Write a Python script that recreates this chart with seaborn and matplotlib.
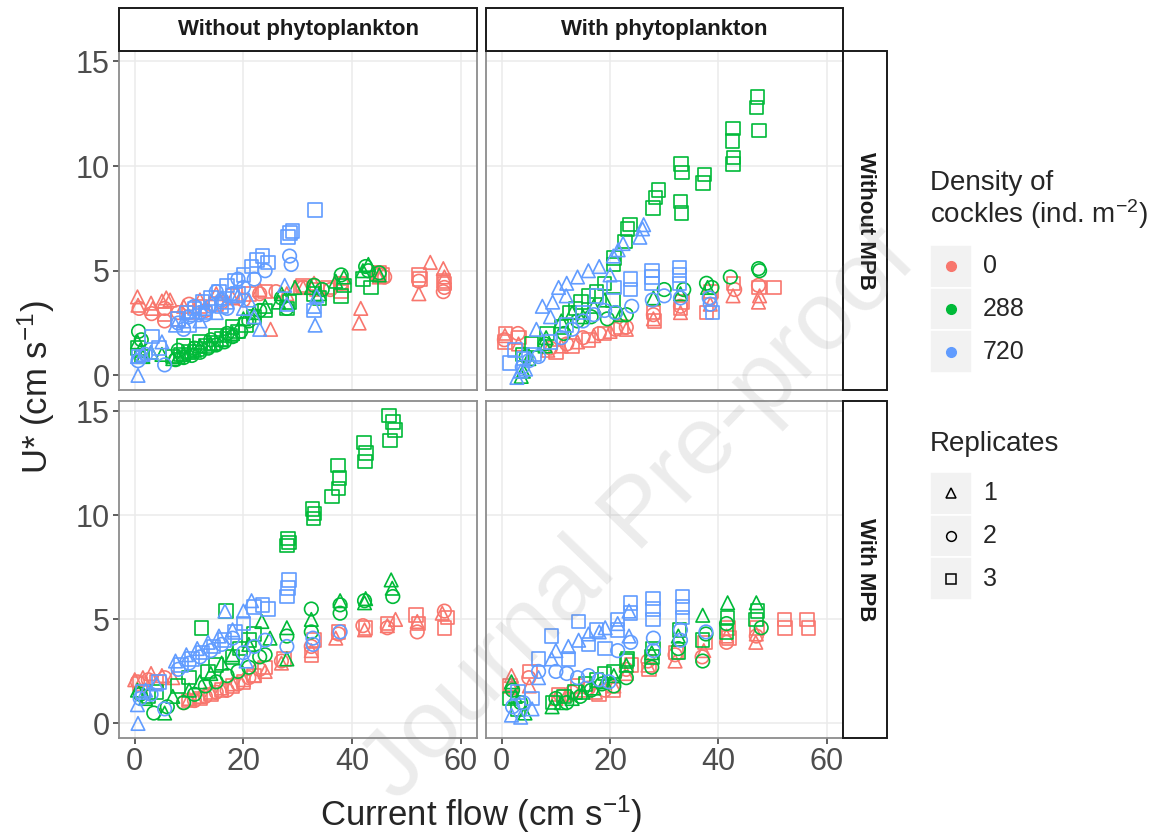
import pandas as pd
import matplotlib
matplotlib.use("Agg")
import matplotlib.pyplot as plt
import seaborn as sns
from matplotlib.patches import Rectangle
from matplotlib.lines import Line2D

# (current flow, U*) pairs, per panel / density / replicate
# panel "tl": without phytoplankton, without MPB
tl_d0_r1 = [(0.5, 3.75), (0.6, 3.35), (3.0, 3.45), (3.3, 3.2), (5.0, 3.55), (5.8, 3.7), (6.5, 3.6), (9, 3.3),
            (12, 3.6), (15, 3.9), (18, 3.7), (23, 4.1), (25, 2.2), (28, 3.9), (31, 4.2), (33, 4.4), (41.3, 2.5),
            (41.6, 3.2), (44.5, 4.9), (45, 4.7), (52.3, 3.9), (54.4, 5.4), (56.8, 5.1), (57, 4.7)]
tl_d0_r2 = [(0.8, 3.2), (3.1, 2.95), (5.5, 2.6), (5.5, 3.2), (8, 3.0), (10, 3.4), (13, 3.1), (16, 3.5), (20, 3.6),
            (23, 3.9), (26, 4.0), (31, 4.2), (33, 4.3), (36, 4.1), (38, 4.4), (45, 4.8), (46, 4.7), (52.3, 4.5),
            (56.8, 4.0), (57, 4.2)]
tl_d0_r3 = [(5.5, 2.9), (8, 2.7), (10, 3.0), (12, 3.3), (15, 3.4), (18, 3.8), (21, 3.9), (24, 4.0), (30.5, 4.2),
            (31, 4.3), (33.5, 4.1), (35.6, 4.2), (38, 4.4), (38, 4.0), (45, 4.9), (45.5, 4.8), (52.3, 4.8),
            (52.5, 4.6), (56.8, 4.5), (57, 4.4)]
tl_d288_r1 = [(0.5, 1.6), (1.0, 1.2), (1.5, 0.9), (3, 1.1), (5, 1.0), (7, 0.8), (8, 0.9), (9, 1.0), (10, 1.1),
              (11, 1.2), (12, 1.4), (14, 1.5), (16, 1.7), (18, 2.0), (20, 2.7), (22, 3.0), (24, 3.3), (26.5, 3.5),
              (27, 3.9), (29.5, 4.2), (32.5, 4.2), (34, 3.9), (37, 4.5), (38.5, 4.7), (42, 5.0), (43, 5.3), (45, 4.8)]
tl_d288_r2 = [(0.7, 2.1), (1.2, 1.7), (7.5, 0.75), (9, 0.85), (10.5, 0.95), (12, 1.1), (13.5, 1.3), (15, 1.45),
              (16.5, 1.6), (18, 1.85), (19.5, 2.1), (21, 2.6), (23, 3.1), (27, 3.7), (28, 3.2), (33, 4.3),
              (34.5, 4.1), (38, 4.8), (42.5, 5.2), (43, 5.0), (45, 4.9), (8, 1.2), (11, 1.3), (14, 1.7), (17, 2.0)]
tl_d288_r3 = [(0.6, 1.3), (1.3, 0.9), (7, 0.9), (8.5, 1.0), (10, 1.15), (11.5, 1.25), (13, 1.4), (14.5, 1.55),
              (16, 1.75), (17.5, 1.9), (19, 2.1), (20.5, 2.4), (22, 2.8), (24, 3.1), (28, 3.2), (28.5, 3.5),
              (33, 3.9), (34, 3.7), (38, 3.8), (38.5, 4.3), (42, 4.6), (43.5, 4.2), (9, 1.4), (12, 1.6), (15, 1.9),
              (18, 2.3)]
tl_d720_r1 = [(0.6, 0.0), (0.5, 0.9), (1.5, 1.0), (3, 1.1), (5, 1.6), (7.5, 2.4), (9, 2.6), (11, 2.9), (13, 3.2),
              (15, 3.0), (17, 3.5), (19, 3.8), (21, 3.6), (23, 2.2), (27.6, 4.3), (28, 3.4), (33.2, 2.4), (33, 3.3),
              (33.5, 3.8), (12, 2.6), (16, 3.7), (20, 3.2), (22, 2.8)]
tl_d720_r2 = [(0.6, 0.7), (2, 1.0), (5.5, 0.5), (8, 2.5), (10, 2.8), (12, 3.0), (14, 3.3), (16, 3.6), (18, 3.9),
              (20, 4.2), (22, 4.6), (24, 5.0), (28.5, 5.7), (28.8, 5.3), (9, 2.2), (11, 3.3), (13, 2.9), (15, 4.0),
              (17, 3.2), (19, 4.6)]
tl_d720_r3 = [(0.7, 0.9), (3.2, 1.85), (4.5, 1.3), (8, 2.7), (9.5, 3.0), (11, 3.2), (12.5, 3.5), (14, 3.7),
              (15.5, 4.0), (17, 4.3), (18.5, 4.5), (20, 4.8), (21.5, 5.2), (22.5, 5.5), (23.5, 5.7), (24.5, 5.4),
              (28.2, 6.6), (28.6, 6.8), (29, 6.9), (33.2, 7.9), (33, 3.1), (10, 2.4), (13, 3.0), (16, 3.3), (19, 3.9)]

# panel "tr": with phytoplankton, without MPB
tr_d0_r1 = [(0.6, 1.9), (3.1, 1.5), (8.5, 1.2), (11, 1.4), (14, 1.6), (17, 1.9), (20, 2.1), (23, 2.2), (28, 2.7),
            (33, 3.0), (38.5, 3.4), (42.7, 3.8), (47.4, 3.5), (47.6, 3.8)]
tr_d0_r2 = [(0.5, 1.7), (3.0, 2.0), (9, 1.3), (12, 1.5), (15, 1.8), (18, 2.0), (21, 2.2), (23, 2.3), (28, 2.9),
            (33, 3.3), (38.5, 3.7), (43, 4.1), (47.4, 4.3)]
tr_d0_r3 = [(0.7, 2.0), (0.6, 1.6), (3.2, 1.8), (10, 1.1), (13, 1.4), (16, 1.7), (19, 2.0), (22, 2.3), (28.2, 2.6),
            (28, 3.0), (33, 3.2), (33.3, 3.5), (37.8, 3.0), (38.6, 4.0), (42.8, 4.4), (47.5, 4.2), (50.3, 4.2)]
tr_d288_r1 = [(3.6, -0.05), (4.0, 0.2), (5.0, 0.8), (8, 1.4), (8.2, 1.8), (11, 2.6), (13, 3.0), (15, 2.8),
              (17, 3.3), (19, 3.6), (22, 2.9), (28, 3.7), (33, 3.9), (38, 4.2)]
tr_d288_r2 = [(4.5, 0.9), (8, 1.5), (11.5, 2.0), (14, 2.6), (16.5, 2.8), (19.5, 2.7), (21, 3.0), (23, 2.9),
              (30, 4.1), (33.6, 4.1), (37.8, 4.4), (38.8, 4.2), (42.2, 4.7), (47.4, 5.1), (47.6, 5.0)]
tr_d288_r3 = [(3.8, 1.0), (5.5, 1.5), (8.4, 2.0), (11, 2.3), (12.5, 3.0), (13.6, 3.2), (14.6, 3.5), (16, 3.8),
              (17.5, 4.0), (19, 4.4), (20.5, 3.6), (20.6, 5.3), (20.7, 5.6), (22.8, 6.4), (23.2, 7.0), (23.7, 7.2),
              (27.9, 8.0), (28.4, 8.5), (28.9, 8.85), (33.2, 7.75), (33, 8.3), (33.3, 9.7), (33.1, 10.1),
              (37.2, 9.2), (37.4, 9.6), (42.7, 10.1), (42.8, 10.4), (42.6, 11.2), (42.7, 11.8), (47.0, 12.8),
              (47.2, 13.3), (47.5, 11.7)]
tr_d720_r1 = [(2.8, -0.1), (3.5, 0.2), (4.4, 0.3), (6.4, 2.2), (7.5, 3.3), (9, 2.8), (9.4, 3.5), (10.5, 4.2),
              (11.9, 3.8), (12, 4.4), (14, 4.7), (16, 5.0), (18, 5.2), (20, 4.8), (20.6, 5.7), (21.5, 6.0),
              (22.4, 6.3), (25.5, 6.6), (26, 7.0), (26.2, 7.2)]
tr_d720_r2 = [(3.8, 0.4), (5, 0.7), (6.8, 0.9), (11, 1.8), (13, 2.2), (15, 2.6), (17, 2.9), (19, 3.1), (21, 3.0),
              (24, 3.3), (27.8, 3.6), (30, 3.8), (33, 3.7), (38.3, 3.7), (38.5, 3.4)]
tr_d720_r3 = [(1.5, 0.6), (2.5, 1.2), (4, 0.8), (6, 1.0), (9, 1.6), (12, 2.4), (15, 3.0), (17.5, 3.8), (20.7, 4.2),
              (23.8, 4.1), (23.8, 4.6), (27.7, 4.4), (27.7, 4.7), (27.7, 5.0), (32.8, 4.4), (32.8, 4.8),
              (32.8, 5.15), (38.9, 3.0)]

# panel "bl": without phytoplankton, with MPB
bl_d0_r1 = [(0, 2.1), (1.5, 2.2), (3, 2.4), (5, 2.3), (7, 2.2), (10, 1.2), (12, 1.3), (14, 1.5), (16, 1.7),
            (18, 1.9), (20, 2.1), (22, 2.3), (24, 2.5), (27, 2.9), (32.5, 3.5), (37, 4.1), (42.3, 4.5),
            (46.5, 4.7), (48, 5.0), (52, 4.9), (56.6, 5.3)]
bl_d0_r2 = [(0.5, 2.0), (2.5, 2.1), (5.5, 2.2), (9, 1.0), (11, 1.1), (13, 1.3), (15, 1.5), (17, 1.6), (19, 1.9),
            (21, 2.2), (23, 2.6), (27, 3.0), (32.5, 3.7), (37.5, 4.3), (42, 4.7), (46.5, 4.6), (52, 4.4), (57, 5.4)]
bl_d0_r3 = [(1, 1.9), (4, 2.0), (10, 1.1), (12, 1.2), (14, 1.4), (16, 1.6), (18, 1.8), (20, 2.0), (22, 2.3),
            (24, 2.7), (27.5, 3.1), (32.5, 3.3), (33, 4.0), (37.5, 4.4), (42.5, 4.6), (46.5, 4.8), (51.8, 5.2),
            (52.2, 4.8), (57.6, 5.1), (57, 4.6)]
bl_d288_r1 = [(0.5, 1.6), (2, 1.2), (5.5, 0.5), (7, 1.3), (10, 1.6), (12, 2.0), (14, 2.4), (16, 2.9), (18, 3.3),
              (21, 3.8), (23.4, 4.9), (24.9, 4.1), (28, 3.1), (28, 4.6), (32.5, 5.0), (37.8, 5.9), (42.3, 5.8),
              (42.5, 6.0), (47.2, 6.9), (47.4, 6.5)]
bl_d288_r2 = [(1, 1.4), (3.5, 0.5), (6, 0.8), (9, 1.0), (11, 1.4), (13, 1.8), (15, 2.0), (17, 2.3), (19, 2.5),
              (21, 2.7), (23, 3.2), (24, 3.3), (28, 4.2), (32.5, 4.4), (32.5, 5.5), (37.8, 5.3), (37.8, 5.7),
              (42.3, 5.9), (47.5, 6.1)]
bl_d288_r3 = [(2.5, 1.3), (4, 1.5), (8, 1.8), (10, 2.2), (12.3, 4.6), (13.5, 2.5), (15, 2.8), (16.8, 5.4),
              (18, 3.2), (19.4, 3.6), (21, 4.0), (22, 4.3), (28, 8.55), (28.2, 8.9), (28.4, 8.7), (32.9, 9.85),
              (33.1, 10.1), (32.7, 10.3), (36.3, 10.9), (37.5, 11.3), (37.7, 11.8), (37.4, 12.4), (42.4, 12.6),
              (42.6, 13.0), (42.2, 13.5), (47.0, 13.6), (47.9, 14.1), (46.8, 14.8), (47.5, 14.5)]
bl_d720_r1 = [(0.6, 0.0), (0.5, 0.9), (2, 1.6), (4, 1.9), (7.5, 3.0), (9.5, 3.3), (11.5, 3.6), (13.5, 3.9),
              (15.5, 4.2), (16.6, 5.4), (18, 4.5), (20, 5.4), (21.5, 5.9), (20.5, 3.0)]
bl_d720_r2 = [(1, 1.2), (3, 1.4), (5.5, 0.7), (8, 2.6), (10, 2.9), (12, 3.2), (14, 3.5), (16, 3.8), (18, 4.1),
              (20, 3.4), (22, 3.7), (24, 4.0), (28, 3.7), (32.8, 4.1), (32.8, 3.8), (37.8, 4.4)]
bl_d720_r3 = [(1.5, 1.5), (4.5, 2.0), (8.5, 2.8), (10.5, 3.1), (12.5, 3.4), (14.5, 3.7), (16.5, 4.0), (18.5, 4.4),
              (20, 4.8), (22, 5.6), (23.5, 5.7), (24.5, 5.5), (28, 6.1), (28.2, 6.5), (28.4, 6.9)]

# panel "br": with phytoplankton, with MPB
br_d0_r1 = [(1.8, 2.3), (1.6, 1.9), (5.1, 1.8), (10, 1.2), (12, 1.4), (14.6, 1.6), (17.3, 1.5), (20.7, 1.8),
            (23, 2.4), (27, 2.8), (32, 3.0), (37.3, 3.5), (41.5, 4.2), (46.9, 3.9), (47, 4.3)]
br_d0_r2 = [(2.0, 1.7), (5.0, 2.2), (11, 1.3), (13, 1.5), (16, 1.7), (19, 1.6), (23, 2.6), (27, 3.0), (32, 3.3),
            (37, 3.2), (41.5, 3.9), (47, 4.2)]
br_d0_r3 = [(1.5, 1.8), (5.2, 2.5), (10.5, 1.4), (14, 1.8), (18, 1.4), (20.5, 1.6), (24, 2.8), (27.2, 2.6),
            (32.2, 3.4), (37.5, 3.9), (41.8, 4.6), (42, 4.1), (47.1, 4.6), (52.2, 5.0), (52.3, 4.6), (56.4, 5.0),
            (56.6, 4.6)]
br_d288_r1 = [(1.8, 2.0), (2.5, 1.3), (4.3, 0.5), (9.3, 0.8), (11, 1.0), (13, 1.2), (15, 1.5), (17, 1.7),
              (19, 2.0), (20.7, 2.3), (23, 2.8), (27.7, 3.4), (32.6, 4.2), (37.1, 5.2), (41.7, 5.8), (47, 5.8)]
br_d288_r2 = [(2, 1.6), (3.5, 1.0), (10, 1.2), (12, 1.0), (14.5, 1.3), (16.5, 1.6), (18.5, 1.9), (20.7, 1.8),
              (23, 2.2), (27.7, 2.7), (32.6, 3.6), (37.1, 3.0), (37.7, 4.3), (41.5, 4.8), (47.9, 4.6)]
br_d288_r3 = [(1.5, 1.2), (3, 0.7), (9.5, 1.0), (11.5, 1.3), (13.5, 1.5), (15.5, 1.9), (17.5, 2.1), (19, 2.4),
              (20.7, 2.5), (23, 3.0), (23.2, 3.1), (27.7, 3.2), (27.9, 3.6), (32.6, 3.4), (32.8, 4.5), (37.1, 4.0),
              (41.5, 4.4), (41.7, 5.1), (46.9, 5.0), (47.2, 5.4)]
br_d720_r1 = [(1.8, 0.4), (3.5, 0.3), (5.6, 0.7), (6.8, 2.2), (9.2, 3.1), (10, 3.5), (12.3, 3.7), (14.2, 4.0),
              (16, 4.3), (18, 4.4), (19.1, 4.6), (21.4, 4.8), (23.5, 4.2), (23.5, 5.4)]
br_d720_r2 = [(2, 0.8), (4, 1.0), (6.8, 2.5), (10, 2.5), (12, 2.4), (14, 2.2), (16, 2.3), (18, 2.1), (19.8, 2.0),
              (21.4, 3.5), (23.8, 3.9), (28, 3.5), (28, 4.1), (33, 4.0), (33, 4.5), (37.7, 4.4)]
br_d720_r3 = [(3, 1.5), (5.6, 1.2), (6.8, 3.1), (9.2, 4.2), (12.3, 3.1), (14.2, 4.9), (16, 3.8), (17.5, 4.5),
              (19.1, 3.6), (21.4, 4.5), (21.4, 5.0), (23.8, 5.3), (23.8, 5.8), (27.9, 5.0), (27.9, 5.5),
              (27.9, 6.0), (33.4, 5.1), (33.4, 5.6), (33.4, 6.1)]

densities = ["0", "288", "720"]
replicates = ["1", "2", "3"]
phyto_levels = ["Without phytoplankton", "With phytoplankton"]
mpb_levels = ["Without MPB", "With MPB"]
palette = ["#F8766D", "#00BA38", "#619CFF"]
shape_map = {"1": "^", "2": "o", "3": "s"}

groups = {
    ("Without phytoplankton", "Without MPB"): [[tl_d0_r1, tl_d0_r2, tl_d0_r3],
                                               [tl_d288_r1, tl_d288_r2, tl_d288_r3],
                                               [tl_d720_r1, tl_d720_r2, tl_d720_r3]],
    ("With phytoplankton", "Without MPB"): [[tr_d0_r1, tr_d0_r2, tr_d0_r3],
                                            [tr_d288_r1, tr_d288_r2, tr_d288_r3],
                                            [tr_d720_r1, tr_d720_r2, tr_d720_r3]],
    ("Without phytoplankton", "With MPB"): [[bl_d0_r1, bl_d0_r2, bl_d0_r3],
                                            [bl_d288_r1, bl_d288_r2, bl_d288_r3],
                                            [bl_d720_r1, bl_d720_r2, bl_d720_r3]],
    ("With phytoplankton", "With MPB"): [[br_d0_r1, br_d0_r2, br_d0_r3],
                                         [br_d288_r1, br_d288_r2, br_d288_r3],
                                         [br_d720_r1, br_d720_r2, br_d720_r3]],
}

rows = []
for (phyto, mpb), per_density in groups.items():
    for d, per_rep in zip(densities, per_density):
        for r, pts in zip(replicates, per_rep):
            for x, y in pts:
                rows.append({"phyto": phyto, "mpb": mpb, "density": d, "replicate": r, "flow": x, "ustar": y})
df = pd.DataFrame(rows)

sns.set_theme(style="white")
plt.rcParams["font.family"] = ["Liberation Sans", "DejaVu Sans"]
plt.rcParams["mathtext.default"] = "regular"

W, H = 1152, 836
fig = plt.figure(figsize=(W / 100, H / 100), dpi=100)


def fbox(x0, y0, x1, y1):
    # pixel box (top-left origin) -> figure fraction rect
    return [x0 / W, 1 - y1 / H, (x1 - x0) / W, (y1 - y0) / H]


col_px = [(119, 477), (486, 843)]
row_px = [(51, 390), (401, 738)]

for i, mpb in enumerate(mpb_levels):
    for j, phyto in enumerate(phyto_levels):
        ax = fig.add_axes(fbox(col_px[j][0], row_px[i][0], col_px[j][1], row_px[i][1]))
        sub = df[(df.phyto == phyto) & (df.mpb == mpb)]
        sns.scatterplot(data=sub, x="flow", y="ustar", hue="density", style="replicate",
                        hue_order=densities, style_order=replicates, palette=palette,
                        markers=shape_map, s=95, linewidth=1.2, legend=False, ax=ax)
        # hollow markers like ggplot shapes 0/1/2
        coll = ax.collections[0]
        fc = coll.get_facecolors()
        coll.set_edgecolors(fc)
        coll.set_facecolors("none")

        ax.set_xlim(-2.9, 63)
        ax.set_ylim(-0.7, 15.5)
        ax.set_xticks([0, 20, 40, 60])
        ax.set_yticks([0, 5, 10, 15])
        ax.set_xlabel("")
        ax.set_ylabel("")
        ax.grid(True, color="#EBEBEB", linewidth=1.1)
        ax.set_axisbelow(True)
        for sp in ax.spines.values():
            sp.set_color("#8C8C8C")
            sp.set_linewidth(1.3)
        ax.tick_params(axis="both", length=4.5, width=1.1, color="#333333",
                       labelcolor="#4D4D4D", labelsize=22, pad=2)
        if j > 0:
            ax.tick_params(axis="y", left=False, labelleft=False)
        else:
            ax.tick_params(axis="y", left=True)
        if i == 0:
            ax.tick_params(axis="x", bottom=False, labelbottom=False)
        else:
            ax.tick_params(axis="x", bottom=True)

# strips
for j, phyto in enumerate(phyto_levels):
    x0, x1 = col_px[j]
    fig.add_artist(Rectangle((x0 / W, 1 - 51 / H), (x1 - x0) / W, 43 / H, transform=fig.transFigure,
                             facecolor="white", edgecolor="#1A1A1A", linewidth=1.4))
    fig.text((x0 + x1) / 2 / W, 1 - 29.5 / H, phyto, ha="center", va="center",
             fontsize=16, fontweight="bold", color="#1A1A1A")
for i, mpb in enumerate(mpb_levels):
    y0, y1 = row_px[i]
    fig.add_artist(Rectangle((843 / W, 1 - y1 / H), 44 / W, (y1 - y0) / H, transform=fig.transFigure,
                             facecolor="white", edgecolor="#1A1A1A", linewidth=1.4))
    fig.text(865 / W, 1 - (y0 + y1) / 2 / H, mpb, ha="center", va="center", rotation=-90,
             fontsize=16, fontweight="bold", color="#1A1A1A")

# axis titles
fig.text(481 / W, 1 - 814 / H, "Current flow (cm s$^{-1}$)", ha="center", va="center", fontsize=25)
fig.text(36 / W, 1 - 387 / H, "U* (cm s$^{-1}$)", ha="center", va="center", rotation=90, fontsize=25)

# legend: density
fig.text(930 / W, 1 - 170 / H, "Density of\ncockles (ind. m$^{-2}$)", ha="left", va="top",
         fontsize=20, linespacing=1.05)
for k, (lab, col) in enumerate(zip(densities, palette)):
    top = 245 + k * 42.7
    fig.add_artist(Rectangle((930 / W, 1 - (top + 42.7) / H), 42 / W, 42.7 / H, transform=fig.transFigure,
                             facecolor="#F2F2F2", edgecolor="white", linewidth=1.2))
    fig.add_artist(Line2D([951 / W], [1 - (top + 21.3) / H], transform=fig.transFigure, marker="o",
                          markersize=7, color=col, linestyle="none"))
    fig.text(983 / W, 1 - (top + 21.3) / H, lab, ha="left", va="center", fontsize=18)

# legend: replicates
fig.text(930 / W, 1 - 431 / H, "Replicates", ha="left", va="top", fontsize=20)
for k, lab in enumerate(replicates):
    top = 472 + k * 42.7
    fig.add_artist(Rectangle((930 / W, 1 - (top + 42.7) / H), 42 / W, 42.7 / H, transform=fig.transFigure,
                             facecolor="#F2F2F2", edgecolor="white", linewidth=1.2))
    fig.add_artist(Line2D([951 / W], [1 - (top + 21.3) / H], transform=fig.transFigure,
                          marker=shape_map[lab], markersize=7, markerfacecolor="none",
                          markeredgecolor="black", markeredgewidth=1.1, linestyle="none"))
    fig.text(983 / W, 1 - (top + 21.3) / H, lab, ha="left", va="center", fontsize=18)

# watermark
fig.text(640 / W, 1 - 515 / H, "Journal Pre-proof", ha="center", va="center", rotation=46,
         fontsize=70, color="#808080", alpha=0.15, zorder=20)

fig.savefig("out.png", dpi=100)
